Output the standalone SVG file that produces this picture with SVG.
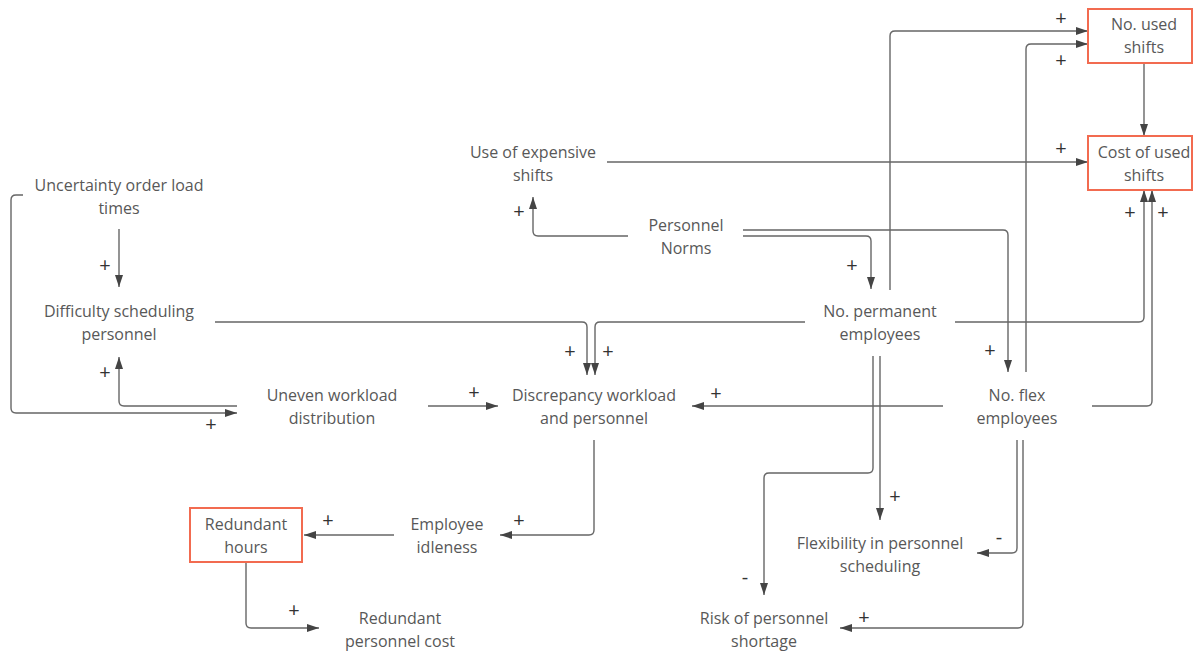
<svg xmlns="http://www.w3.org/2000/svg" width="1194" height="651" viewBox="0 0 1194 651">
<style>
.t{font-family:"Open Sans","Liberation Sans",sans-serif;font-size:16px;fill:#585858;text-anchor:middle}
.s{font-family:"Open Sans","Liberation Sans",sans-serif;font-size:20px;fill:#333;text-anchor:middle}
.c{fill:none;stroke:#666;stroke-width:1.4;marker-end:url(#a)}
.b{fill:#fff;stroke:#f26b50;stroke-width:2}
</style>
<defs>
<marker id="a" markerUnits="userSpaceOnUse" markerWidth="13" markerHeight="9" refX="12" refY="4" orient="auto"><path d="M0,0 L12,4 L0,8 z" fill="#444"/></marker>
</defs>
<rect width="1194" height="651" fill="#fff"/>
<g id="connectors">
<path class="c" d="M119,229 V287"/>
<path class="c" d="M23,195 H16 Q11,195 11,200 V408 Q11,413 16,413 H237"/>
<path class="c" d="M237,406 H124 Q119,406 119,401 V357"/>
<path class="c" d="M215,322 H582 Q587,322 587,327 V375"/>
<path class="c" d="M805,322 H600 Q595,322 595,327 V375"/>
<path class="c" d="M428,406 H498"/>
<path class="c" d="M943,406 H692"/>
<path class="c" d="M594,440 V530 Q594,535 589,535 H500"/>
<path class="c" d="M394,535 H304"/>
<path class="c" d="M246,562 V623 Q246,628 251,628 H319"/>
<path class="c" d="M628,236 H538 Q533,236 533,231 V197"/>
<path class="c" d="M743,236 H866 Q871,236 871,241 V289"/>
<path class="c" d="M743,230 H1003 Q1008,230 1008,235 V372"/>
<path class="c" d="M607,162 H1088"/>
<path class="c" d="M890,290 V36 Q890,31 895,31 H1088"/>
<path class="c" d="M1026,372 V49 Q1026,44 1031,44 H1088"/>
<path class="c" d="M1144,63 V136"/>
<path class="c" d="M955,322 H1139 Q1144,322 1144,317 V190"/>
<path class="c" d="M1092,406 H1147 Q1152,406 1152,401 V190"/>
<path class="c" d="M873,356 V468 Q873,473 868,473 H769 Q764,473 764,478 V595"/>
<path class="c" d="M880,356 V520"/>
<path class="c" d="M1017,440 V548 Q1017,553 1012,553 H977"/>
<path class="c" d="M1023,440 V623 Q1023,628 1018,628 H840"/>
<text class="s" x="1061" y="25">+</text><text class="s" x="1061" y="67">+</text><text class="s" x="1061" y="155">+</text>
<text class="s" x="1130" y="219">+</text><text class="s" x="1163" y="219">+</text><text class="s" x="519" y="218">+</text>
<text class="s" x="852" y="272">+</text><text class="s" x="990" y="357">+</text><text class="s" x="570" y="358">+</text>
<text class="s" x="608" y="358">+</text><text class="s" x="716" y="400">+</text><text class="s" x="474" y="399">+</text>
<text class="s" x="105" y="272">+</text><text class="s" x="105" y="379">+</text><text class="s" x="211" y="431">+</text>
<text class="s" x="519" y="527">+</text><text class="s" x="328" y="527">+</text><text class="s" x="294" y="617">+</text>
<text class="s" x="895" y="503">+</text><text class="s" x="864" y="624">+</text>
<text class="s" x="745" y="584">-</text><text class="s" x="999" y="544">-</text>
</g>
<g id="no-used-shifts"><rect class="b" x="1088" y="9" width="104" height="54"/><text class="t" x="1144" y="30">No. used</text><text class="t" x="1144" y="53">shifts</text></g>
<g id="cost-used-shifts"><rect class="b" x="1088" y="136" width="104" height="54"/><text class="t" x="1144" y="158">Cost of used</text><text class="t" x="1144" y="181">shifts</text></g>
<g id="use-expensive-shifts"><text class="t" x="533" y="158">Use of expensive</text><text class="t" x="533" y="181">shifts</text></g>
<g id="uncertainty"><text class="t" x="119" y="191">Uncertainty order load</text><text class="t" x="119" y="214">times</text></g>
<g id="personnel-norms"><text class="t" x="686" y="231">Personnel</text><text class="t" x="686" y="254">Norms</text></g>
<g id="difficulty"><text class="t" x="119" y="317">Difficulty scheduling</text><text class="t" x="119" y="340">personnel</text></g>
<g id="no-permanent"><text class="t" x="880" y="317">No. permanent</text><text class="t" x="880" y="340">employees</text></g>
<g id="uneven"><text class="t" x="332" y="401">Uneven workload</text><text class="t" x="332" y="424">distribution</text></g>
<g id="discrepancy"><text class="t" x="594" y="401">Discrepancy workload</text><text class="t" x="594" y="424">and personnel</text></g>
<g id="no-flex"><text class="t" x="1017" y="401">No. flex</text><text class="t" x="1017" y="424">employees</text></g>
<g id="redundant-hours"><rect class="b" x="190" y="508" width="112" height="54"/><text class="t" x="246" y="530">Redundant</text><text class="t" x="246" y="553">hours</text></g>
<g id="employee-idleness"><text class="t" x="447" y="530">Employee</text><text class="t" x="447" y="553">idleness</text></g>
<g id="flexibility"><text class="t" x="880" y="549">Flexibility in personnel</text><text class="t" x="880" y="572">scheduling</text></g>
<g id="redundant-cost"><text class="t" x="400" y="624">Redundant</text><text class="t" x="400" y="647">personnel cost</text></g>
<g id="risk-shortage"><text class="t" x="764" y="624">Risk of personnel</text><text class="t" x="764" y="647">shortage</text></g>
</svg>
